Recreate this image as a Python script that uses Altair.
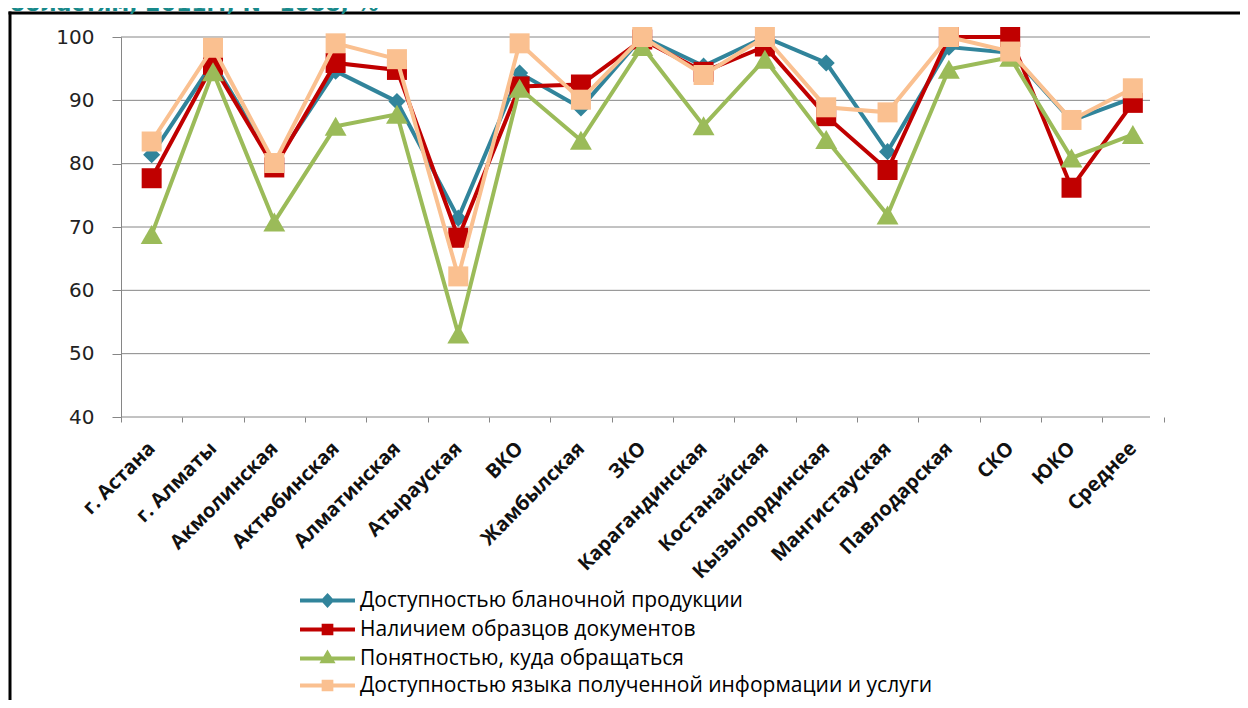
import altair as alt
import pandas as pd

categories = ["г. Астана", "г. Алматы", "Акмолинская", "Актюбинская", "Алматинская",
              "Атырауская", "ВКО", "Жамбылская", "ЗКО", "Карагандинская", "Костанайская",
              "Кызылординская", "Мангистауская", "Павлодарская", "СКО", "ЮКО", "Среднее"]

series_names = ["Доступностью бланочной продукции",
                "Наличием образцов документов",
                "Понятностью, куда обращаться",
                "Доступностью языка полученной информации и услуги"]

blank_forms = [81.4, 96.0, 80.0, 94.6, 89.8, 71.4, 94.3, 88.8, 100.0, 95.4, 100.0, 95.9, 81.9, 98.4, 97.5, 86.8, 90.4]
doc_samples = [77.7, 95.6, 79.4, 95.9, 94.8, 68.3, 92.2, 92.5, 99.6, 94.5, 98.5, 87.5, 79.0, 100.0, 100.0, 76.2, 89.6]
clarity = [68.8, 94.5, 70.8, 85.9, 87.8, 53.1, 91.9, 83.7, 98.5, 86.0, 96.5, 83.8, 71.9, 94.9, 96.8, 80.9, 84.6]
language = [83.5, 98.3, 80.1, 99.0, 96.5, 62.2, 99.0, 90.1, 100.0, 94.0, 100.0, 88.9, 88.1, 100.0, 97.7, 86.9, 91.9]

y_ticks = [40, 50, 60, 70, 80, 90, 100]
colors = ["#31849B", "#C00000", "#9BBB59", "#FAC090"]
shapes = ["diamond", "square", "triangle-up", "square"]
sizes = [290, 400, 480, 400]
legend_paths = [
    "M-3,0L3,0M0,-0.5L0.45,0L0,0.5L-0.45,0Z",
    "M-3,0L3,0M-0.42,-0.42L0.42,-0.42L0.42,0.42L-0.42,0.42Z",
    "M-3,0L3,0M0,-0.55L0.5,0.3L-0.5,0.3Z",
    "M-3,0L3,0M-0.42,-0.42L0.42,-0.42L0.42,0.42L-0.42,0.42Z",
]
title_text = "областям, 2011г., N=1088, %"

rows = []
for s, vals in zip(series_names, [blank_forms, doc_samples, clarity, language]):
    for i, (c, v) in enumerate(zip(categories, vals)):
        rows.append({"series": s, "cat": c, "idx": i, "value": v})
df = pd.DataFrame(rows)
grid_df = pd.DataFrame({"value": y_ticks})

x_enc = alt.X("cat:N", sort=categories, bandPosition=0.5,
              scale=alt.Scale(type="band", domain=categories, range=[0, 1042.5],
                              paddingInner=0, paddingOuter=0),
              axis=alt.Axis(title=None, labelAngle=-45, labelAlign="right", labelBaseline="middle",
                            labelFont="Open Sans", labelFontWeight="bold", labelFontSize=20,
                            labelColor="#111111", tickBand="extent", tickSize=5,
                            tickColor="#868686", domain=False, grid=False, labelPadding=23,
                            labelOverlap=False, labelLimit=400))
y_scale = alt.Scale(domain=[40, 100], nice=False, zero=False)
y_enc = alt.Y("value:Q", scale=y_scale,
              axis=alt.Axis(values=y_ticks, title=None, labelFont="DejaVu Sans", labelFontSize=20,
                            labelColor="#222222", tickSize=9, tickColor="#868686",
                            domainColor="#868686", grid=False, labelPadding=18))

layers = []
one = pd.DataFrame({"a": [0]})
layers.append(alt.Chart(grid_df).mark_rule(color="#868686", strokeWidth=1).encode(
    y=alt.Y("value:Q", scale=y_scale), x=alt.value(0), x2=alt.value(1029)))
layers.append(alt.Chart(one).mark_rule(color="black", strokeWidth=3).encode(
    x=alt.value(-111), y=alt.value(-25.5), y2=alt.value(720)))
layers.append(alt.Chart(one).mark_rule(color="black", strokeWidth=3).encode(
    x=alt.value(-112.5), x2=alt.value(1300), y=alt.value(-24)))
layers.append(alt.Chart(one).mark_text(align="left", baseline="alphabetic", font="DejaVu Sans",
                                       fontWeight="bold", fontSize=22, color="#17898A").encode(
    x=alt.value(-111), y=alt.value(-26), text=alt.value(title_text)))

for name, col, shp, sz in zip(series_names, colors, shapes, sizes):
    base = alt.Chart(df).transform_filter(alt.datum.series == name)
    layers.append(base.mark_line(color=col, strokeWidth=4).encode(x=x_enc, y=y_enc, order="idx:Q"))
    layers.append(base.mark_point(filled=True, opacity=1, shape=shp, size=sz, color=col).encode(
        x=x_enc, y=y_enc))

leg = alt.Legend(title=None, orient="none", legendX=195, legendY=552, labelFont="Open Sans",
                 labelFontSize=21, labelColor="#000000", symbolSize=336, symbolStrokeWidth=4,
                 labelOffset=21, rowPadding=3, padding=0, labelLimit=700)
layers.append(alt.Chart(df).transform_filter("false").mark_point(
    filled=True, opacity=1, strokeWidth=4, size=336).encode(
    fill=alt.Fill("series:N", scale=alt.Scale(domain=series_names, range=colors), legend=leg),
    stroke=alt.Stroke("series:N", scale=alt.Scale(domain=series_names, range=colors), legend=leg),
    shape=alt.Shape("series:N", scale=alt.Scale(domain=series_names, range=legend_paths), legend=leg),
))

chart = alt.layer(*layers).properties(
    width=1029, height=380,
    autosize=alt.AutoSizeParams(type="none"),
    padding={"left": 113, "top": 29, "right": 90, "bottom": 283},
    background="white",
).configure_view(strokeWidth=0)

chart.save("out.html", embed_options={"renderer": "svg", "actions": False})
